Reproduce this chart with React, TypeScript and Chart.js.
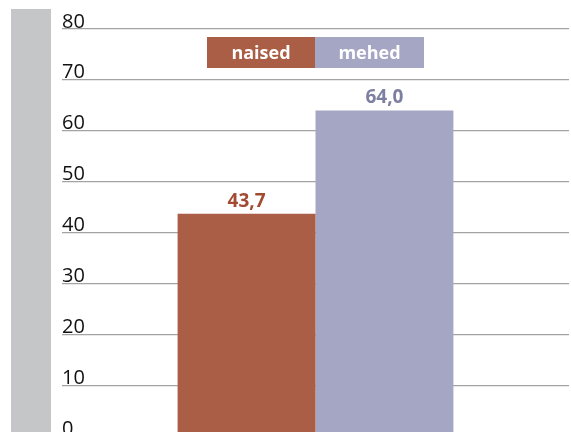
import React, { useEffect, useRef } from "react";
import { Chart, registerables } from "chart.js";

Chart.register(...registerables);

const categories = [""];
const seriesLabels = ["naised", "mehed"];
const naisedValues = [43.7];
const mehedValues = [64.0];
const yTicks = [0, 10, 20, 30, 40, 50, 60, 70, 80];
const barColors = ["#a95e45", "#a5a6c3"];
const labelColors = ["#a24a32", "#7d7fa1"];

const FONT = "'Open Sans', 'DejaVu Sans', sans-serif";

const decorPlugin = {
  id: "decor",
  beforeDraw(chart: any) {
    const ctx = chart.ctx;
    ctx.save();
    ctx.fillStyle = "#c5c6c8";
    ctx.fillRect(11, 9, 40, chart.height);
    ctx.restore();
  },
  afterDraw(chart: any) {
    const ctx = chart.ctx;
    const y = chart.scales.y;
    ctx.save();
    // y tick labels
    ctx.fillStyle = "#111";
    ctx.font = `20px ${FONT}`;
    ctx.textAlign = "left";
    ctx.textBaseline = "alphabetic";
    yTicks.forEach((t) => {
      ctx.fillText(String(t), 62, y.getPixelForValue(t) - 1.5);
    });
    // value labels
    ctx.font = `bold 19px ${FONT}`;
    ctx.textAlign = "center";
    chart.data.datasets.forEach((ds: any, i: number) => {
      const meta = chart.getDatasetMeta(i);
      meta.data.forEach((el: any, j: number) => {
        const v = ds.data[j];
        ctx.fillStyle = labelColors[i];
        ctx.fillText(v.toFixed(1).replace(".", ","), el.x, el.y - 7);
      });
    });
    // legend boxes
    const boxes = [
      { x: 207, w: 108 },
      { x: 315, w: 109 },
    ];
    ctx.font = `bold 18px ${FONT}`;
    chart.data.datasets.forEach((ds: any, i: number) => {
      const b = boxes[i];
      ctx.fillStyle = barColors[i];
      ctx.fillRect(b.x, 37, b.w, 31);
      ctx.fillStyle = "#ffffff";
      ctx.fillText(ds.label, b.x + b.w / 2, 59);
    });
    ctx.restore();
  },
};

export default function App() {
  const ref = useRef<HTMLCanvasElement>(null);
  useEffect(() => {
    const canvas = ref.current!;
    const chart = new Chart(canvas, {
      type: "bar",
      data: {
        labels: categories,
        datasets: [
          { label: seriesLabels[0], data: naisedValues, backgroundColor: barColors[0], borderWidth: 0 },
          { label: seriesLabels[1], data: mehedValues, backgroundColor: barColors[1], borderWidth: 0 },
        ],
      },
      options: {
        animation: false,
        responsive: false,
        maintainAspectRatio: false,
        layout: { padding: { left: 62, right: 2, top: 29, bottom: 24 } },
        plugins: {
          legend: { display: false },
          tooltip: { enabled: false },
        },
        datasets: {
          bar: { barPercentage: 1, categoryPercentage: 0.544 },
        },
        scales: {
          x: {
            display: false,
            offset: true,
            grid: { display: false },
          },
          y: {
            min: 0,
            max: 80,
            afterFit(scale: any) {
              scale.width = 0;
            },
            ticks: { stepSize: 10, display: false },
            border: { display: false },
            grid: { color: "#a3a3a3", lineWidth: 1.2, drawTicks: false },
          },
        },
      },
      plugins: [decorPlugin],
    } as any);
    return () => chart.destroy();
  }, []);
  return (
    <div style={{ position: "fixed", left: 0, top: 0, width: 571, height: 460, background: "#fff" }}>
      <canvas ref={ref} width={571} height={460} style={{ width: 571, height: 460, display: "block" }} />
    </div>
  );
}
